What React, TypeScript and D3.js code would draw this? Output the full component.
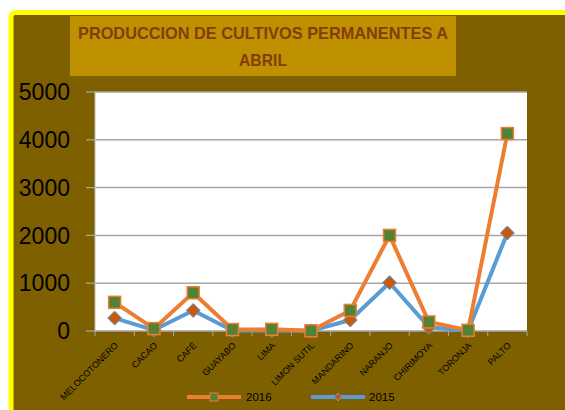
import React from "react";
import * as d3 from "d3";

const categories = ["MELOCOTONERO", "CACAO", "CAFÉ", "GUAYABO", "LIMA", "LIMON SUTIL", "MANDARINO", "NARANJO", "CHIRIMOYA", "TORONJA", "PALTO"];
const values2016 = [600, 50, 800, 30, 35, 5, 430, 2000, 190, 15, 4130];
const values2015 = [270, 20, 430, 10, 10, 5, 230, 1010, 80, 5, 2050];
const yTicks = [0, 1000, 2000, 3000, 4000, 5000];
const titleLines = ["PRODUCCION DE CULTIVOS PERMANENTES A", "ABRIL"];
const legendLabels = ["2016", "2015"];

const W = 565;
const H = 410;
const plot = { left: 95, right: 527, top: 92, bottom: 331 };

export default function App() {
  const x = d3.scaleBand<string>().domain(categories).range([plot.left, plot.right]);
  const y = d3.scaleLinear().domain([0, 5000]).range([plot.bottom, plot.top]);
  const cx = (c: string) => (x(c) as number) + x.bandwidth() / 2;
  const line = d3.line<number>().x((_, i) => cx(categories[i])).y((d) => y(d));
  const font = "'Liberation Sans', Arial, sans-serif";
  const orange = "#ED7D31";
  const blue = "#5B9BD5";
  const green = "#548235";
  const rust = "#C55A11";
  const grid = "#A6A6A6";

  const boundaries = d3.range(categories.length + 1).map((i) => plot.left + i * x.step());

  return (
    <svg width={W} height={H} style={{ position: "absolute", left: 0, top: 0 }} xmlns="http://www.w3.org/2000/svg">
      <rect x={0} y={0} width={W} height={H} fill="#ffffff" />
      <rect x={11} y={12.5} width={700} height={500} rx={4} fill="#7F6000" stroke="#FFFF00" strokeWidth={5} />
      {/* title */}
      <rect x={70} y={16} width={386} height={60} fill="#BF9000" />
      <text x={263} y={39} textAnchor="middle" fontFamily={font} fontWeight="bold" fontSize={17} fill="#843C0C" textLength={370} lengthAdjust="spacingAndGlyphs">{titleLines[0]}</text>
      <text x={263} y={66} textAnchor="middle" fontFamily={font} fontWeight="bold" fontSize={17} fill="#843C0C" textLength={48} lengthAdjust="spacingAndGlyphs">{titleLines[1]}</text>
      {/* plot area */}
      <rect x={plot.left} y={plot.top} width={plot.right - plot.left} height={plot.bottom - plot.top} fill="#ffffff" />
      {yTicks.map((t) => (
        <g key={t}>
          {t > 0 && <line x1={plot.left} x2={plot.right} y1={y(t)} y2={y(t)} stroke={grid} strokeWidth={1.5} />}
          <line x1={86} x2={plot.left} y1={y(t)} y2={y(t)} stroke={grid} strokeWidth={1.2} />
          <text x={70} y={y(t)} dy="0.36em" textAnchor="end" fontFamily={font} fontSize={23} fill="#000">{t}</text>
        </g>
      ))}
      <line x1={plot.left} x2={plot.left} y1={plot.top} y2={plot.bottom} stroke="#BFBFBF" strokeWidth={1} />
      <line x1={plot.left} x2={plot.right} y1={plot.bottom} y2={plot.bottom} stroke={grid} strokeWidth={1.5} />
      {boundaries.map((b, i) => (
        <line key={i} x1={b} x2={b} y1={plot.bottom} y2={plot.bottom + 5} stroke={grid} strokeWidth={1} />
      ))}
      {categories.map((c) => (
        <text key={c} transform={`translate(${cx(c) + 4},${plot.bottom + 15}) rotate(-45)`} textAnchor="end" fontFamily={font} fontSize={9} fill="#000">{c}</text>
      ))}
      {/* series 2015 */}
      <path d={line(values2015) || ""} fill="none" stroke={blue} strokeWidth={4} strokeLinejoin="round" />
      {/* series 2016 */}
      <path d={line(values2016) || ""} fill="none" stroke={orange} strokeWidth={4} strokeLinejoin="round" />
      {values2015.map((v, i) => {
        const px = cx(categories[i]);
        const py = y(v);
        return <path key={"d" + i} d={`M${px},${py - 7}L${px + 7},${py}L${px},${py + 7}L${px - 7},${py}Z`} fill={rust} stroke={blue} strokeWidth={1} />;
      })}
      {values2016.map((v, i) => {
        const px = cx(categories[i]);
        const py = y(v);
        return <rect key={"s" + i} x={px - 6} y={py - 6} width={12} height={12} fill={green} stroke={orange} strokeWidth={1.5} />;
      })}
      {/* legend */}
      <line x1={187} x2={241} y1={397} y2={397} stroke={orange} strokeWidth={4} />
      <rect x={210} y={393} width={8} height={8} fill={green} stroke={orange} strokeWidth={1} />
      <text x={246} y={397} dy="0.36em" fontFamily={font} fontSize={11.5} fill="#000">{legendLabels[0]}</text>
      <line x1={311} x2={365} y1={397} y2={397} stroke={blue} strokeWidth={4} />
      <path d="M338,393L342,397L338,401L334,397Z" fill={rust} stroke={blue} strokeWidth={1} />
      <text x={369} y={397} dy="0.36em" fontFamily={font} fontSize={11.5} fill="#000">{legendLabels[1]}</text>
    </svg>
  );
}
